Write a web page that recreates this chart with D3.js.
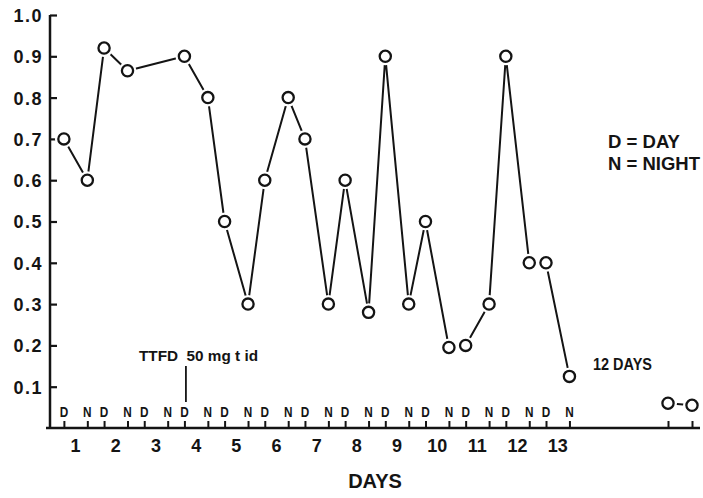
<!DOCTYPE html>
<html>
<head>
<meta charset="utf-8">
<script src="https://cdn.jsdelivr.net/npm/d3@7"></script>
<style>
  html, body { margin: 0; padding: 0; background: #fff; }
  svg { display: block; font-family: "Liberation Sans", Arial, Helvetica, sans-serif; font-weight: bold; }
</style>
</head>
<body>
<svg id="chart" width="703" height="498"></svg>
<script>
// Day numbers along the time axis
const days = [1, 2, 3, 4, 5, 6, 7, 8, 9, 10, 11, 12, 13];
// Daytime (D) and night-time (N) readings for each day; null = no reading
const dayValues   = [0.70, 0.92,  null, 0.90, 0.50, 0.60, 0.70, 0.60, 0.90, 0.50,  0.20, 0.90, 0.40];
const nightValues = [0.60, 0.865, null, 0.80, 0.30, 0.80, 0.30, 0.28, 0.30, 0.195, 0.30, 0.40, 0.125];
// Follow-up D and N readings taken 12 days after the last day
const laterDay = 25;
const laterValues = [0.06, 0.055];
// Y axis ticks
const yTicks = [0.1, 0.2, 0.3, 0.4, 0.5, 0.6, 0.7, 0.8, 0.9, 1.0];
const yTickLabels = ["0.1", "0.2", "0.3", "0.4", "0.5", "0.6", "0.7", "0.8", "0.9", "1.0"];
// Clock hours of the day and night readings
const dayHour = 8, nightHour = 22;

const hourOf = (day, hour) => (day - 1) * 24 + hour;

const svg = d3.select("#chart");
const ink = "#141414";

const lastMain = hourOf(days[days.length - 1], nightHour);
const laterD = hourOf(laterDay, dayHour);
const laterN = hourOf(laterDay, nightHour);
const pxPerHour = 1.674;
const x0 = 50.5;

// Broken time axis: the 12-day gap is compressed
const x = d3.scaleLinear()
  .domain([0, lastMain, laterD, laterN])
  .range([x0, x0 + lastMain * pxPerHour, 668, 692]);
const y = d3.scaleLinear().domain([0, 1]).range([428, 15]);

// ---- Y axis
const yAxis = d3.axisLeft(y)
  .tickValues(yTicks)
  .tickSize(-7)
  .tickPadding(7)
  .tickFormat((d, i) => yTickLabels[i]);
const gy = svg.append("g").attr("transform", "translate(50,0)").call(yAxis);
gy.select(".domain").remove();
gy.selectAll(".tick line").attr("stroke", ink).attr("stroke-width", 2.2);
gy.selectAll(".tick text")
  .attr("fill", ink)
  .attr("font-size", 18)
  .attr("font-family", "Liberation Sans, Arial, sans-serif")
  .attr("font-weight", "bold")
  .attr("letter-spacing", 1.5)
  .attr("dy", "0.36em");
svg.append("line")
  .attr("x1", 50).attr("x2", 50)
  .attr("y1", y(1)).attr("y2", y(0) + 1)
  .attr("stroke", ink).attr("stroke-width", 2.5);

// ---- X axis with D / N ticks
const slots = [];
days.forEach(d => {
  slots.push({ t: hourOf(d, dayHour), label: "D" });
  slots.push({ t: hourOf(d, nightHour), label: "N" });
});
const tickTimes = slots.map(s => s.t).concat([laterD, laterN]);

const xAxis = d3.axisBottom(x)
  .tickValues(tickTimes)
  .tickSize(-7)
  .tickFormat("");
const gx = svg.append("g").attr("transform", `translate(0,${y(0)})`).call(xAxis);
gx.select(".domain").remove();
gx.selectAll(".tick line").attr("stroke", ink).attr("stroke-width", 2);
svg.append("line")
  .attr("x1", 46).attr("x2", 700)
  .attr("y1", y(0)).attr("y2", y(0))
  .attr("stroke", ink).attr("stroke-width", 2.5);

// D / N letters above the ticks
svg.append("g").selectAll("text")
  .data(slots)
  .join("text")
  .attr("x", d => x(d.t) - 4.25)
  .attr("y", 416.5)
  .attr("font-size", 15)
  .attr("fill", ink)
  .attr("textLength", 8.5)
  .attr("lengthAdjust", "spacingAndGlyphs")
  .text(d => d.label);

// Day numbers below the axis
svg.append("g").selectAll("text")
  .data(days)
  .join("text")
  .attr("x", d => x(hourOf(d, 15)))
  .attr("y", 452)
  .attr("text-anchor", "middle")
  .attr("font-size", 18)
  .attr("fill", ink)
  .text(d => d);

// Axis title
svg.append("text")
  .attr("x", 375).attr("y", 488)
  .attr("text-anchor", "middle")
  .attr("font-size", 20)
  .attr("fill", ink)
  .text("DAYS");

// ---- Series
const mainSeries = [];
days.forEach((d, i) => {
  if (dayValues[i] != null) mainSeries.push({ t: hourOf(d, dayHour), v: dayValues[i] });
  if (nightValues[i] != null) mainSeries.push({ t: hourOf(d, nightHour), v: nightValues[i] });
});
const laterSeries = [
  { t: laterD, v: laterValues[0] },
  { t: laterN, v: laterValues[1] }
];

const line = d3.line().x(d => x(d.t)).y(d => y(d.v));
[mainSeries, laterSeries].forEach(s => {
  svg.append("path")
    .datum(s)
    .attr("d", line)
    .attr("fill", "none")
    .attr("stroke", ink)
    .attr("stroke-width", 2)
    .attr("stroke-linejoin", "round");
});

const allPoints = mainSeries.concat(laterSeries);
// white gap around each marker
svg.append("g").selectAll("circle")
  .data(allPoints)
  .join("circle")
  .attr("cx", d => x(d.t)).attr("cy", d => y(d.v))
  .attr("r", 9)
  .attr("fill", "#fff");
svg.append("g").selectAll("circle")
  .data(allPoints)
  .join("circle")
  .attr("cx", d => x(d.t)).attr("cy", d => y(d.v))
  .attr("r", 5.6)
  .attr("fill", "#fff")
  .attr("stroke", ink)
  .attr("stroke-width", 2.3);

// ---- Annotations
const startT = hourOf(4, dayHour);
svg.append("line")
  .attr("x1", x(startT) + 1.5).attr("x2", x(startT) + 1.5)
  .attr("y1", 366).attr("y2", 402)
  .attr("stroke", ink).attr("stroke-width", 1.8);
svg.append("text")
  .attr("x", 139).attr("y", 361)
  .attr("font-size", 15)
  .attr("fill", ink)
  .attr("textLength", 119)
  .attr("lengthAdjust", "spacingAndGlyphs")
  .attr("xml:space", "preserve")
  .text("TTFD  50 mg t id");

svg.append("text")
  .attr("x", 593).attr("y", 370)
  .attr("font-size", 16)
  .attr("fill", ink)
  .attr("textLength", 59)
  .attr("lengthAdjust", "spacingAndGlyphs")
  .text("12 DAYS");

svg.append("text")
  .attr("x", 608).attr("y", 148)
  .attr("font-size", 19)
  .attr("fill", ink)
  .attr("textLength", 72)
  .attr("lengthAdjust", "spacingAndGlyphs")
  .text("D = DAY");
svg.append("text")
  .attr("x", 608).attr("y", 170)
  .attr("font-size", 19)
  .attr("fill", ink)
  .attr("textLength", 92)
  .attr("lengthAdjust", "spacingAndGlyphs")
  .text("N = NIGHT");
</script>
</body>
</html>
